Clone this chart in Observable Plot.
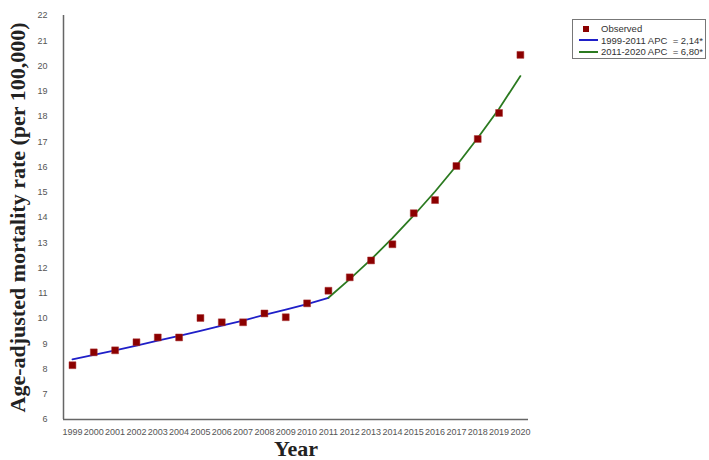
<!DOCTYPE html>
<html>
<head>
<meta charset="utf-8">
<script src="https://cdn.jsdelivr.net/npm/d3@7"></script>
<script src="https://cdn.jsdelivr.net/npm/@observablehq/plot@0.6"></script>
<style>
  html, body { margin: 0; padding: 0; background: #fff; }
  #wrap { position: relative; width: 709px; height: 460px; }
  #legend {
    position: absolute; left: 572px; top: 19px; width: 134px; height: 40px;
    border: 1px solid #777; font-family: "Liberation Sans", Arial, sans-serif;
    font-size: 9.5px; color: #333; box-sizing: border-box; padding-top: 3px;
  }
  .row { display: flex; align-items: center; height: 11.5px; white-space: pre; }
  .sym { width: 21px; display: flex; justify-content: center; margin-left: 5px; margin-right: 2px; }
  .sq { width: 6px; height: 6px; background: #8b0000; }
  .ln { width: 19px; height: 2px; }
</style>
</head>
<body>
<div id="wrap">
  <div id="chart"></div>
  <div id="legend"></div>
</div>
<script>
const years = d3.range(1999, 2021);
const observed = [8.15, 8.66, 8.74, 9.06, 9.25, 9.25, 10.02, 9.85, 9.85, 10.2, 10.05, 10.6,
                  11.1, 11.63, 12.3, 12.94, 14.17, 14.69, 16.04, 17.11, 18.14, 20.44];

const seg1Years = d3.range(1999, 2012);
const seg1Fit = [8.38, 8.56, 8.74, 8.93, 9.12, 9.31, 9.51, 9.72, 9.92, 10.14, 10.35, 10.57, 10.82];
const seg2Years = d3.range(2011, 2021);
const seg2Fit = [10.82, 11.56, 12.34, 13.18, 14.08, 15.03, 16.05, 17.15, 18.31, 19.6];

const legendItems = [
  {label: "Observed", kind: "square", color: "#8b0000"},
  {label: "1999-2011 APC  = 2,14*", kind: "line", color: "#1f1fc8"},
  {label: "2011-2020 APC  = 6,80*", kind: "line", color: "#2b7a20"}
];
const yTicks = d3.range(6, 23);
const yTitle = "Age-adjusted mortality rate (per 100,000)";
const xTitle = "Year";

const obs = years.map((y, i) => ({year: y, value: observed[i]}));
const fit1 = seg1Years.map((y, i) => ({year: y, value: seg1Fit[i]}));
const fit2 = seg2Years.map((y, i) => ({year: y, value: seg2Fit[i]}));

const chart = Plot.plot({
  width: 709,
  height: 460,
  marginLeft: 63,
  marginRight: 181,
  marginTop: 15,
  marginBottom: 41,
  style: {fontFamily: "'Liberation Sans', Arial, sans-serif", fontSize: "9px", color: "#555", background: "#fff"},
  x: {domain: [1998.58, 2020.38], ticks: years, tickFormat: d => String(d), tickSize: 0, tickPadding: 9, label: null},
  y: {domain: [6, 22], ticks: yTicks, tickSize: 0, tickPadding: 16, label: null},
  marks: [
    Plot.ruleX([1998.58], {stroke: "#666", strokeWidth: 1.5}),
    Plot.ruleY([6], {stroke: "#666", strokeWidth: 1.5}),
    Plot.line(fit1, {x: "year", y: "value", stroke: legendItems[1].color, strokeWidth: 1.8}),
    Plot.line(fit2, {x: "year", y: "value", stroke: legendItems[2].color, strokeWidth: 1.8}),
    Plot.dot(obs, {x: "year", y: "value", symbol: "square", r: 3.9, fill: legendItems[0].color, stroke: "#a33", strokeWidth: 0.5}),
    Plot.text([yTitle], {frameAnchor: "left", rotate: -90, dx: -46, textAnchor: "middle", lineAnchor: "middle",
      fontFamily: "'Liberation Serif', 'Times New Roman', serif", fontWeight: "bold", fontSize: 22, fill: "#222"}),
    Plot.text([xTitle], {frameAnchor: "bottom", dy: 29, textAnchor: "middle", lineAnchor: "middle",
      fontFamily: "'Liberation Serif', 'Times New Roman', serif", fontWeight: "bold", fontSize: 22, fill: "#222"})
  ]
});
document.getElementById("chart").appendChild(chart);

const legend = document.getElementById("legend");
for (const item of legendItems) {
  const row = document.createElement("div");
  row.className = "row";
  const sym = document.createElement("div");
  sym.className = "sym";
  const m = document.createElement("div");
  if (item.kind === "square") { m.className = "sq"; m.style.background = item.color; m.style.marginLeft = "-6px"; }
  else { m.className = "ln"; m.style.background = item.color; }
  sym.appendChild(m);
  row.appendChild(sym);
  const t = document.createElement("span");
  t.textContent = item.label;
  row.appendChild(t);
  legend.appendChild(row);
}
</script>
</body>
</html>
